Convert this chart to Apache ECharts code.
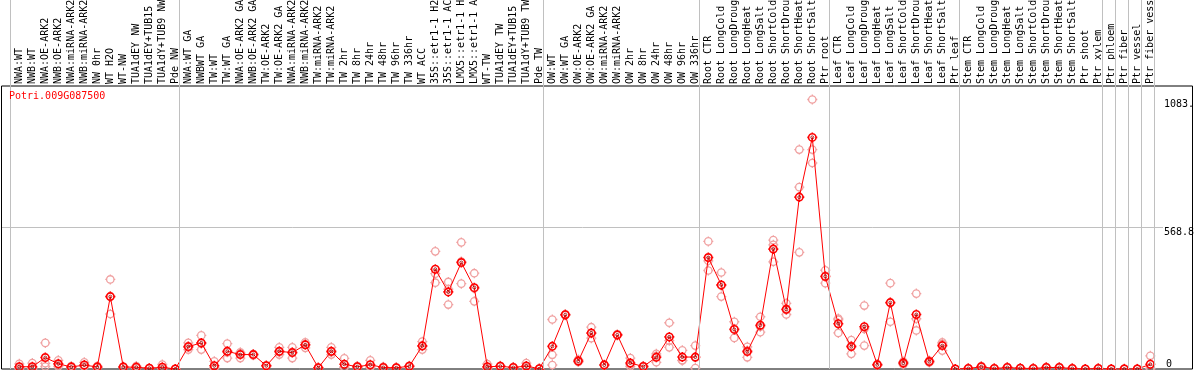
<!DOCTYPE html>
<html><head><meta charset="utf-8">
<script src="https://cdn.jsdelivr.net/npm/echarts@6/dist/echarts.min.js"></script>
<style>html,body{margin:0;padding:0;background:#fff}#c{width:1194px;height:370px}</style>
</head><body><div id="c"></div>
<script>
const categories = ["NWA:WT","NWB:WT","NWA:OE-ARK2","NWB:OE-ARK2","NWA:miRNA-ARK2","NWB:miRNA-ARK2","NW 0hr","WT H2O","WT-NW","TUA1dEY NW","TUA1dEY+TUB15 NW","TUA1dY+TUB9 NW","Pde NW",
"NWA:WT GA","NWBWT GA","TW:WT","TW:WT GA","NWA:OE-ARK2 GA","NWB:OE-ARK2 GA","TW:OE-ARK2","TW:OE-ARK2 GA","NWA:miRNA-ARK2 GA","NWB:miRNA-ARK2 GA","TW:miRNA-ARK2","TW:miRNA-ARK2 GA","TW 2hr","TW 8hr","TW 24hr","TW 48hr","TW 96hr","TW 336hr","WT ACC","35S::etr1-1 H2O","35S::etr1-1 ACC","LMX5::etr1-1 H2O","LMX5::etr1-1 ACC","WT-TW","TUA1dEY TW","TUA1dEY+TUB15 TW","TUA1dY+TUB9 TW","Pde TW",
"OW:WT","OW:WT GA","OW:OE-ARK2","OW:OE-ARK2 GA","OW:miRNA-ARK2","OW:miRNA-ARK2 GA","OW 2hr","OW 8hr","OW 24hr","OW 48hr","OW 96hr","OW 336hr",
"Root CTR","Root LongCold","Root LongDrought","Root LongHeat","Root LongSalt","Root ShortCold","Root ShortDrought","Root ShortHeat","Root ShortSalt","Ptr root",
"Leaf CTR","Leaf LongCold","Leaf LongDrought","Leaf LongHeat","Leaf LongSalt","Leaf ShortCold","Leaf ShortDrought","Leaf ShortHeat","Leaf ShortSalt","Ptr leaf",
"Stem CTR","Stem LongCold","Stem LongDrought","Stem LongHeat","Stem LongSalt","Stem ShortCold","Stem ShortDrought","Stem ShortHeat","Stem ShortSalt","Ptr shoot","Ptr xylem",
"Ptr phloem","Ptr fiber","Ptr vessel","Ptr fiber vessel"];

const means = [9,9,46,21,8,16,8,291,8,7,3,7,0,
90,105,13,71,58,58,13,71,66,97,5,71,19,9,17,6,5,11,93,401,310,428,327,9,11,6,12,1,
91,218,32,145,16,137,24,10,47,129,48,48,
448,338,159,70,176,482,240,691,931,372,
182,90,170,17,267,24,219,30,94,0,
2,9,2,6,3,2,6,6,2,0,2,
0,0,0,19];

const rep1 = [21,24,105,35,12,27,12,360,10,12,4,18,0,
105,135,31,102,67,60,15,87,87,107,6,87,43,12,35,9,7,13,110,473,350,509,385,20,13,8,24,1,
199,220,38,168,18,140,44,12,61,186,75,94,
513,388,190,89,210,518,264,882,1083.4,397,
203,116,255,20,345,30,303,34,107,0,
3,12,3,8,4,3,8,8,3,0,3,
0,2,1,53];

const rep2 = [5,4,10,10,5,10,6,221,7,5,3,2,0,
78,78,5,44,44,55,12,58,44,85,4,58,8,8,9,5,4,9,78,347,259,343,272,4,10,5,7,1,
57,216,28,124,14,135,10,8,27,87,34,4,
396,291,125,47,148,499,219,731,882,345,
145,61,94,15,190,18,155,26,74,0,
2,8,2,5,3,2,5,5,2,0,2,
0,0,0,2];

const rep3 = [1,0,23,18,7,11,6,292,7,4,2,1,0,
87,102,3,67,63,59,12,68,67,99,5,68,6,7,7,4,4,11,91,383,321,432,324,3,10,5,5,1,
16,218,30,143,16,137,18,10,53,114,35,46,
435,335,162,74,170,431,237,469,828,374,
198,93,161,16,266,24,202,30,101,0,
1,7,1,5,2,1,5,5,1,0,1,
0,0,0,2];

const groupStarts = [0,13,41,53,63,73,84,85,86,87,88];
const yMax = 1137.6;
const yStep = 568.8;
const yTickLabels = [568.8, 1083.4];
const yZeroLabel = [0];
const geneTitle = 'Potri.009G087500';

const FONT = 'DejaVu Sans Mono';
const RING = 'path://M5,1.3A3.7,3.7,0,1,1,4.99,1.3ZM5,0L5,0.9M5,9.1L5,10M0,5L0.9,5M9.1,5L10,5';
const fmt = v => (v === 0 ? '0' : Number(v).toFixed(1));

const repSeries = [rep1, rep2, rep3].map(r => ({
  type: 'scatter', xAxisIndex: 2, yAxisIndex: 3, data: r, symbol: RING, symbolSize: 10,
  itemStyle: {color: 'rgba(0,0,0,0)', borderColor: '#f0a0a0', borderWidth: 1.3, opacity: 1},
  z: 2, silent: true
}));

const G = {outerBoundsMode: 'none', containLabel: false};
const chart = echarts.init(document.getElementById('c'), null, {renderer: 'canvas'});
chart.setOption({
  animation: false,
  backgroundColor: '#fff',
  title: {text: geneTitle, left: 9, top: 91, padding: 0,
    textStyle: {color: '#ff0000', fontSize: 10, fontFamily: FONT, fontWeight: 'normal'}},
  grid: [
    Object.assign({left: 1.5, right: 1.5, top: 86, bottom: 1, show: true, borderColor: '#000', borderWidth: 1, backgroundColor: 'transparent'}, G),
    Object.assign({left: 2, right: 31, top: 86, bottom: 1}, G),
    Object.assign({left: 12.8, right: 37.2, top: 86, bottom: 1}, G),
    Object.assign({left: 10.5, right: 39.5, top: 0, bottom: 1}, G)
  ],
  xAxis: [
    {gridIndex: 0, type: 'value', show: false},
    {gridIndex: 1, type: 'value', show: false},
    {gridIndex: 2, type: 'category', data: categories, position: 'top', boundaryGap: true,
      axisLine: {show: false}, axisTick: {show: false}, splitLine: {show: false},
      axisLabel: {interval: 0, rotate: 90, margin: 2, fontSize: 10, fontFamily: FONT, color: '#000', hideOverlap: false}},
    {gridIndex: 3, type: 'value', min: -0.5, max: categories.length - 0.5, show: false}
  ],
  yAxis: [
    {gridIndex: 0, type: 'value', show: false},
    {gridIndex: 1, type: 'value', min: 0, max: yMax, interval: yStep, position: 'right',
      axisLine: {show: false}, axisTick: {show: false},
      splitLine: {show: true, showMinLine: false, showMaxLine: false, lineStyle: {color: '#c0c0c0', width: 1}},
      axisLabel: {customValues: yTickLabels, formatter: fmt, margin: 1, verticalAlign: 'top',
        fontSize: 10, fontFamily: FONT, color: '#000'}},
    {gridIndex: 1, type: 'value', min: 0, max: yMax, position: 'right',
      axisLine: {show: false}, axisTick: {show: false}, splitLine: {show: false},
      axisLabel: {customValues: yZeroLabel, formatter: fmt, margin: 3, verticalAlign: 'bottom',
        fontSize: 10, fontFamily: FONT, color: '#000'}},
    {gridIndex: 2, type: 'value', min: 0, max: yMax, show: false},
    {gridIndex: 3, type: 'value', min: 0, max: 1, show: false}
  ],
  series: [
    {type: 'line', xAxisIndex: 3, yAxisIndex: 4, data: [[-0.5, 0]], symbol: 'none',
      lineStyle: {opacity: 0}, silent: true, z: 1,
      markLine: {silent: true, symbol: 'none', label: {show: false},
        lineStyle: {color: '#c0c0c0', type: 'solid', width: 1},
        emphasis: {disabled: true},
        data: groupStarts.map(k => ({xAxis: k - 0.5}))}},
    ...repSeries,
    {type: 'line', xAxisIndex: 2, yAxisIndex: 3, data: means, symbol: 'none',
      lineStyle: {color: '#ff0000', width: 1}, z: 3, silent: true},
    {type: 'scatter', xAxisIndex: 2, yAxisIndex: 3, data: means, symbol: RING, symbolSize: 10,
      itemStyle: {color: 'rgba(0,0,0,0)', borderColor: '#ff0000', borderWidth: 1.6, opacity: 1}, z: 4, silent: true},
    {type: 'scatter', xAxisIndex: 2, yAxisIndex: 3, data: means, symbol: 'circle', symbolSize: 3,
      itemStyle: {color: 'rgba(0,0,0,0)', borderColor: '#900000', borderWidth: 0.8, opacity: 1}, z: 5, silent: true}
  ]
});
</script>
</body></html>
